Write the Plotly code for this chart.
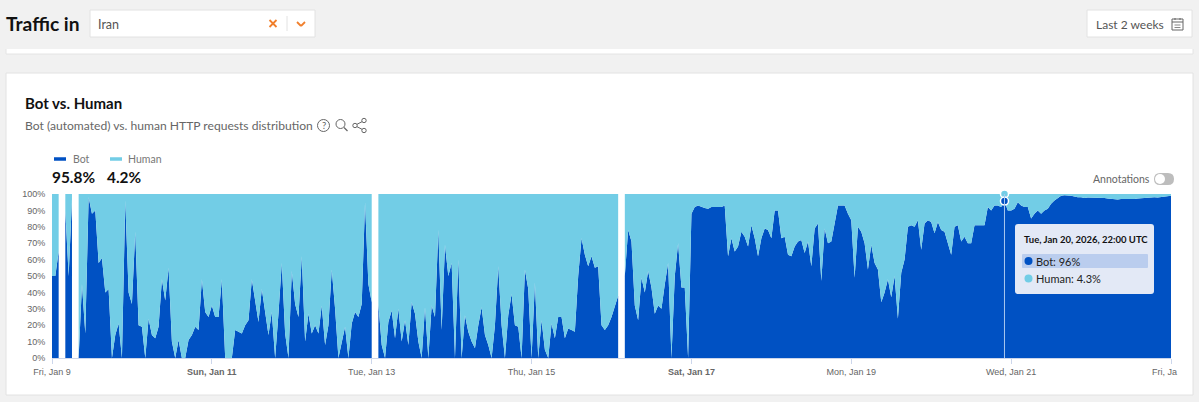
import pandas as pd
import plotly.graph_objects as go

W, H = 1199, 402
BOT_COLOR = "#0051c3"
HUMAN_COLOR = "#72cde6"
ORANGE = "#f07f2c"
UI_FONT = "Lato"

start_time = "2026-01-09 00:00"
bot = [
    50,50,65,None,90,50,97,None,0,45,15,98,
    88,90,58,61,40,42,0,14,21,0,96,40,
    33,77,20,19,0,24,14,12,19,48,35,55,
    10,0,11,0,0,11,14,19,17,48,28,25,
    32,25,25,48,0,0,0,17,16,15,20,23,
    48,36,22,42,28,14,28,0,27,58,15,0,
    53,33,25,62,10,27,15,20,15,32,8,20,
    54,30,0,10,19,0,21,28,25,33,95,45,
    34,None,33,8,0,22,29,12,30,10,23,8,
    34,27,10,0,31,0,32,25,78,17,69,50,
    58,0,60,0,26,16,10,6,20,31,14,8,
    0,20,56,20,0,26,39,20,19,0,54,42,
    0,46,0,23,5,0,21,12,25,25,12,18,
    17,16,50,73,63,56,62,55,56,20,17,20,
    25,32,38,None,50,78,71,32,23,49,40,53,
    43,27,32,30,45,58,0,50,70,43,43,0,
    88,92,93,92,91.5,91,92,92,92,92,93,62,
    73,65,68,77,74,68,81,73,62,73,79,78,
    73,90,90,73,74,63,62,68,71,72,64,71,
    56,79,82,47,79,70,71,82,93,93,93,88,
    84,49,80,77,70,54,69,58,54,34,40,48,
    37,50,24,52,60,80,81,80,84,66,82,84,
    83,76,83,78,77,70,63,80,81,71,74,70,
    70,81,81,81,81,92,90,93,93,92,95.7,90,
    90,91,95,93,92,92,85,88,90,88,90,91,
    94,96,97.5,99,99.3,99.3,99,98.5,98,98,97.5,97.8,
    97.8,97.6,97.5,97.6,97.5,97.2,97,96.8,96.6,97,97,96.6,
    96.8,97,97.3,97.5,97.7,97.8,98,98,97.8,98,98.3,98.6,
    99,
]
human = [
    50,50,35,None,10,50,3,None,100,55,85,2,
    12,10,42,39,60,58,100,86,79,100,4,60,
    67,23,80,81,100,76,86,88,81,52,65,45,
    90,100,89,100,100,89,86,81,83,52,72,75,
    68,75,75,52,100,100,100,83,84,85,80,77,
    52,64,78,58,72,86,72,100,73,42,85,100,
    47,67,75,38,90,73,85,80,85,68,92,80,
    46,70,100,90,81,100,79,72,75,67,5,55,
    66,None,67,92,100,78,71,88,70,90,77,92,
    66,73,90,100,69,100,68,75,22,83,31,50,
    42,100,40,100,74,84,90,94,80,69,86,92,
    100,80,44,80,100,74,61,80,81,100,46,58,
    100,54,100,77,95,100,79,88,75,75,88,82,
    83,84,50,27,37,44,38,45,44,80,83,80,
    75,68,62,None,50,22,29,68,77,51,60,47,
    57,73,68,70,55,42,100,50,30,57,57,100,
    12,8,7,8,8.5,9,8,8,8,8,7,38,
    27,35,32,23,26,32,19,27,38,27,21,22,
    27,10,10,27,26,37,38,32,29,28,36,29,
    44,21,18,53,21,30,29,18,7,7,7,12,
    16,51,20,23,30,46,31,42,46,66,60,52,
    63,50,76,48,40,20,19,20,16,34,18,16,
    17,24,17,22,23,30,37,20,19,29,26,30,
    30,19,19,19,19,8,10,7,7,8,4.3,10,
    10,9,5,7,8,8,15,12,10,12,10,9,
    6,4,2.5,1,0.7,0.7,1,1.5,2,2,2.5,2.2,
    2.2,2.4,2.5,2.4,2.5,2.8,3,3.2,3.4,3,3,3.4,
    3.2,3,2.7,2.5,2.3,2.2,2,2,2.2,2,1.7,1.4,
    1,
]
tick_dates = ["2026-01-09","2026-01-11","2026-01-13","2026-01-15","2026-01-17","2026-01-19","2026-01-21","2026-01-23"]
tick_labels = ["Fri, Jan 9","<b>Sun, Jan 11</b>","Tue, Jan 13","Thu, Jan 15","<b>Sat, Jan 17</b>","Mon, Jan 19","Wed, Jan 21",""]
y_ticks = [0,10,20,30,40,50,60,70,80,90,100]
y_labels = ["0%","10%","20%","30%","40%","50%","60%","70%","80%","90%","100%"]
hover_time = "2026-01-20 22:00"
hover_bot = 95.7

times = pd.date_range(start_time, periods=len(bot), freq="h")

fig = go.Figure()

runs, cur = [], []
for i, v in enumerate(bot):
    if v is None:
        if cur:
            runs.append(cur)
        cur = []
    else:
        cur.append(i)
if cur:
    runs.append(cur)

for n, idx in enumerate(runs):
    xs = [times[i] for i in idx]
    for name, vals, color in (("Bot", bot, BOT_COLOR), ("Human", human, HUMAN_COLOR)):
        fig.add_trace(go.Scatter(
            x=xs, y=[vals[i] for i in idx], name=name, stackgroup=f"s{n}",
            mode="lines", line=dict(width=0, color=color), fillcolor=color,
            showlegend=False, hoverinfo="skip",
        ))

fig.add_trace(go.Scatter(x=[pd.Timestamp(hover_time)], y=[100], mode="markers", cliponaxis=False,
                         marker=dict(size=8, color=HUMAN_COLOR, line=dict(color="white", width=1.5)),
                         showlegend=False, hoverinfo="skip"))
fig.add_trace(go.Scatter(x=[pd.Timestamp(hover_time)], y=[hover_bot], mode="markers", cliponaxis=False,
                         marker=dict(size=8, color=BOT_COLOR, line=dict(color="white", width=1.5)),
                         showlegend=False, hoverinfo="skip"))


def px(x):
    return x / W


def py(y):
    return 1 - y / H


shapes, notes = [], []


def rect(x0, y0, x1, y1, fill="white", line=None, width=1):
    shapes.append(dict(type="rect", xref="paper", yref="paper", x0=px(x0), x1=px(x1), y0=py(y0), y1=py(y1),
                       fillcolor=fill, line=dict(color=line or fill, width=width if line else 0), layer="below"))


def seg(x0, y0, x1, y1, color, width=1.5, layer="above"):
    shapes.append(dict(type="line", xref="paper", yref="paper", x0=px(x0), x1=px(x1), y0=py(y0), y1=py(y1),
                       line=dict(color=color, width=width), layer=layer))


def circle(cx, cy, r, fill="rgba(0,0,0,0)", line=None, width=1):
    shapes.append(dict(type="circle", xref="paper", yref="paper", x0=px(cx - r), x1=px(cx + r),
                       y0=py(cy - r), y1=py(cy + r), fillcolor=fill,
                       line=dict(color=line or fill, width=width if line else 0), layer="above"))


def text(x, y, s, size, color="#555555", family=UI_FONT, anchor="left"):
    notes.append(dict(xref="paper", yref="paper", x=px(x), y=py(y), text=s, showarrow=False,
                      xanchor=anchor, yanchor="middle", align=anchor,
                      font=dict(size=size, color=color, family=family), borderpad=0, borderwidth=0))


def rounded(x0, y0, x1, y1, r, fill, layer="above"):
    a, b, c, d = px(x0), px(x1), py(y0), py(y1)
    rx, ry = r / W, r / H
    path = (f"M {a+rx} {c} L {b-rx} {c} Q {b} {c} {b} {c-ry} L {b} {d+ry} Q {b} {d} {b-rx} {d} "
            f"L {a+rx} {d} Q {a} {d} {a} {d+ry} L {a} {c-ry} Q {a} {c} {a+rx} {c} Z")
    shapes.append(dict(type="path", xref="paper", yref="paper", path=path, fillcolor=fill,
                       line=dict(width=0), layer=layer))


rect(6, 40, 1193, 54, "white", "#e4e4e4")
rect(-2, 30, 1201, 49, "#f1f1f1")
rect(6, 73, 1193, 395, "white", "#e2e2e2")
rect(90, 10, 315, 37, "white", "#e2e2e2")
rect(1087, 10, 1192, 37, "white", "#e2e2e2")

text(6, 24, "<b>Traffic in</b>", 19.2, "#111111")
text(98, 24.5, "Iran", 12.5, "#555555")
seg(269.5, 20, 276.5, 27, ORANGE, 1.8)
seg(269.5, 27, 276.5, 20, ORANGE, 1.8)
seg(287, 16, 287, 31, "#e2e2e2", 1)
seg(297, 22, 301, 26, ORANGE, 1.8)
seg(301, 26, 305, 22, ORANGE, 1.8)

text(1095.5, 24.5, "Last 2 weeks", 12, "#555555")
shapes.append(dict(type="rect", xref="paper", yref="paper", x0=px(1172), x1=px(1183), y0=py(19), y1=py(30),
                   line=dict(color="#666666", width=1), layer="above"))
seg(1172, 22, 1183, 22, "#666666", 1)
seg(1175, 18, 1175, 20, "#666666", 1)
seg(1180, 18, 1180, 20, "#666666", 1)
seg(1174.5, 25, 1180.5, 25, "#888888", 1)
seg(1174.5, 27.5, 1180.5, 27.5, "#888888", 1)

text(25, 103, "<b>Bot vs. Human</b>", 15, "#111111")
text(25, 125.5, "Bot (automated) vs. human HTTP requests distribution", 12.1, "#666666")
circle(323.5, 125.5, 6, line="#666666", width=1)
text(323.5, 125.5, "?", 9.5, "#666666", anchor="center")
circle(340.5, 124, 4.5, line="#666666", width=1)
seg(344, 127.5, 347.5, 131, "#666666", 1.2)
circle(355, 125.5, 2.2, line="#666666", width=1)
circle(364, 120.5, 2.2, line="#666666", width=1)
circle(364, 130.5, 2.2, line="#666666", width=1)
seg(357, 124.3, 362, 121.7, "#666666", 1)
seg(357, 126.7, 362, 129.3, "#666666", 1)

seg(54, 159, 66, 159, BOT_COLOR, 3.5)
seg(110, 159, 122, 159, HUMAN_COLOR, 3.5)
text(73, 159, "Bot", 10.5, "#777777")
text(128, 159, "Human", 10.5, "#777777")
text(52, 177, "<b>95.8%</b>", 15.4, "#111111")
text(107, 177, "<b>4.2%</b>", 15.4, "#111111")

text(1093, 179.5, "Annotations", 10.5, "#666666")
rounded(1154, 173, 1174, 185, 6, "#bdbdbd")
circle(1160, 179, 5, "white")

text(1152, 371.5, "Fri, Ja", 9, "#666666", family="Liberation Sans")

shapes.append(dict(type="line", xref="x", yref="y", x0=hover_time, x1=hover_time, y0=0, y1=100,
                   line=dict(color="#a9c8ee", width=1), layer="above"))

rounded(1015, 224, 1154, 294, 3, "#e3e9f6")
rounded(1022, 254, 1148, 268, 1, "#bacdee")
circle(1028.5, 261, 4, BOT_COLOR)
circle(1028.5, 278.5, 4, HUMAN_COLOR)
text(1024, 239, "<b>Tue, Jan 20, 2026, 22:00 UTC</b>", 9.5, "#111111")
text(1036, 261, "Bot: 96%", 11, "#222222")
text(1036, 278.5, "Human: 4.3%", 11, "#222222")

fig.update_layout(
    width=W, height=H, autosize=False,
    margin=dict(l=0, r=0, t=0, b=0, pad=0),
    paper_bgcolor="#f1f1f1", plot_bgcolor="white",
    showlegend=False,
    shapes=shapes, annotations=notes,
    xaxis=dict(
        domain=[52 / W, 1171 / W], type="date", automargin=False,
        range=[start_time, "2026-01-23 00:00"],
        tickmode="array", tickvals=tick_dates, ticktext=tick_labels,
        ticks="outside", ticklen=5, tickcolor="#ccd6eb", tickwidth=1,
        showgrid=False, zeroline=False, showline=True, linecolor="#ccd6eb", linewidth=1,
        tickfont=dict(family="Liberation Sans", size=9, color="#666666"),
        tickangle=0,
    ),
    yaxis=dict(
        domain=[1 - 358 / H, 1 - 194 / H], range=[0, 100], automargin=False,
        tickmode="array", tickvals=y_ticks, ticktext=y_labels,
        ticks="outside", ticklen=4, tickcolor="rgba(0,0,0,0)",
        showgrid=False, zeroline=False, showline=False,
        tickfont=dict(family="Liberation Sans", size=9, color="#666666"),
    ),
)

fig.write_html("out.html", config=dict(displayModeBar=False),
               post_script="document.body.style.margin='0';document.body.style.background='#f1f1f1';")
